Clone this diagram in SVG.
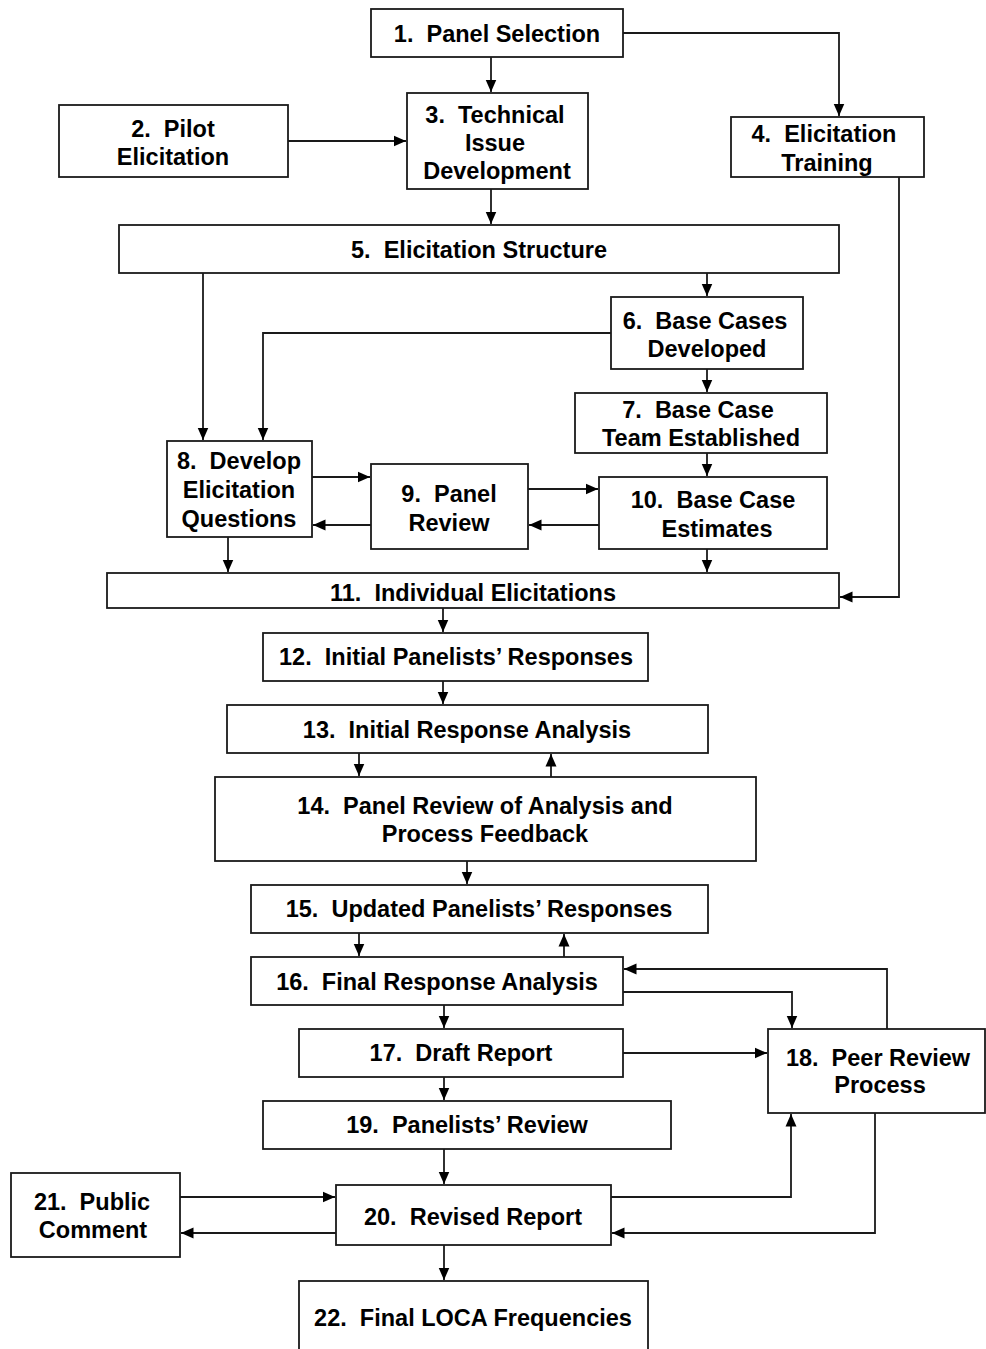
<svg xmlns="http://www.w3.org/2000/svg" width="986" height="1349" viewBox="0 0 986 1349">
<style>
.box{fill:#fff;stroke:#1a1a1a;stroke-width:1.8}
.t{font-family:"Liberation Sans",Arial,Helvetica,sans-serif;font-weight:bold;font-size:23.5px;fill:#000;text-anchor:middle;white-space:pre}
.c{fill:none;stroke:#1a1a1a;stroke-width:1.8}
</style>
<defs>
<marker id="ah" markerUnits="userSpaceOnUse" markerWidth="13" markerHeight="13" viewBox="0 0 13 13" refX="12.5" refY="6.5" orient="auto">
<path d="M0,1 L12.5,6.5 L0,12 z" fill="#000"/>
</marker>
</defs>
<rect width="986" height="1349" fill="#fff"/>
<g id="connectors">
<path class="c" d="M491,57 V92" marker-end="url(#ah)"/>
<path class="c" d="M623,33 H839 V116" marker-end="url(#ah)"/>
<path class="c" d="M288,141 H406" marker-end="url(#ah)"/>
<path class="c" d="M491,189 V224" marker-end="url(#ah)"/>
<path class="c" d="M899,177 V597 H840" marker-end="url(#ah)"/>
<path class="c" d="M707,273 V296" marker-end="url(#ah)"/>
<path class="c" d="M203,273 V440" marker-end="url(#ah)"/>
<path class="c" d="M611,333 H263 V440" marker-end="url(#ah)"/>
<path class="c" d="M707,369 V392" marker-end="url(#ah)"/>
<path class="c" d="M707,453 V476" marker-end="url(#ah)"/>
<path class="c" d="M312,477 H370" marker-end="url(#ah)"/>
<path class="c" d="M371,525 H313" marker-end="url(#ah)"/>
<path class="c" d="M528,489 H598" marker-end="url(#ah)"/>
<path class="c" d="M599,525 H529" marker-end="url(#ah)"/>
<path class="c" d="M228,537 V572" marker-end="url(#ah)"/>
<path class="c" d="M707,549 V572" marker-end="url(#ah)"/>
<path class="c" d="M443,608 V632" marker-end="url(#ah)"/>
<path class="c" d="M443,681 V704" marker-end="url(#ah)"/>
<path class="c" d="M359,753 V776" marker-end="url(#ah)"/>
<path class="c" d="M551,777 V754" marker-end="url(#ah)"/>
<path class="c" d="M467,861 V884" marker-end="url(#ah)"/>
<path class="c" d="M359,933 V956" marker-end="url(#ah)"/>
<path class="c" d="M564,957 V934" marker-end="url(#ah)"/>
<path class="c" d="M887,1029 V969 H624" marker-end="url(#ah)"/>
<path class="c" d="M623,992 H792 V1028" marker-end="url(#ah)"/>
<path class="c" d="M444,1005 V1028" marker-end="url(#ah)"/>
<path class="c" d="M623,1053 H767" marker-end="url(#ah)"/>
<path class="c" d="M444,1077 V1100" marker-end="url(#ah)"/>
<path class="c" d="M444,1149 V1184" marker-end="url(#ah)"/>
<path class="c" d="M180,1197 H335" marker-end="url(#ah)"/>
<path class="c" d="M336,1233 H181" marker-end="url(#ah)"/>
<path class="c" d="M611,1197 H791 V1114" marker-end="url(#ah)"/>
<path class="c" d="M875,1113 V1233 H612" marker-end="url(#ah)"/>
<path class="c" d="M444,1245 V1280" marker-end="url(#ah)"/>
</g>
<g id="n1"><rect class="box" x="371" y="9" width="252" height="48"/><text class="t" x="497" y="42">1.  Panel Selection</text></g>
<g id="n2"><rect class="box" x="59" y="105" width="229" height="72"/><text class="t" x="173" y="137">2.  Pilot</text><text class="t" x="173" y="165">Elicitation</text></g>
<g id="n3"><rect class="box" x="407" y="93" width="181" height="96"/><text class="t" x="495" y="123">3.  Technical</text><text class="t" x="495" y="151">Issue</text><text class="t" x="497" y="179">Development</text></g>
<g id="n4"><rect class="box" x="731" y="117" width="193" height="60"/><text class="t" x="824" y="142">4.  Elicitation</text><text class="t" x="827" y="171">Training</text></g>
<g id="n5"><rect class="box" x="119" y="225" width="720" height="48"/><text class="t" x="479" y="258">5.  Elicitation Structure</text></g>
<g id="n6"><rect class="box" x="611" y="297" width="192" height="72"/><text class="t" x="705" y="329">6.  Base Cases</text><text class="t" x="707" y="357">Developed</text></g>
<g id="n7"><rect class="box" x="575" y="393" width="252" height="60"/><text class="t" x="698" y="418">7.  Base Case</text><text class="t" x="701" y="446">Team Established</text></g>
<g id="n8"><rect class="box" x="167" y="441" width="145" height="96"/><text class="t" x="239" y="469">8.  Develop</text><text class="t" x="239" y="498">Elicitation</text><text class="t" x="239" y="527">Questions</text></g>
<g id="n9"><rect class="box" x="371" y="464" width="157" height="85"/><text class="t" x="449" y="502">9.  Panel</text><text class="t" x="449" y="531">Review</text></g>
<g id="n10"><rect class="box" x="599" y="477" width="228" height="72"/><text class="t" x="713" y="508">10.  Base Case</text><text class="t" x="717" y="537">Estimates</text></g>
<g id="n11"><rect class="box" x="107" y="573" width="732" height="35"/><text class="t" x="473" y="601">11.  Individual Elicitations</text></g>
<g id="n12"><rect class="box" x="263" y="633" width="385" height="48"/><text class="t" x="456" y="665">12.  Initial Panelists’ Responses</text></g>
<g id="n13"><rect class="box" x="227" y="705" width="481" height="48"/><text class="t" x="467" y="738">13.  Initial Response Analysis</text></g>
<g id="n14"><rect class="box" x="215" y="777" width="541" height="84"/><text class="t" x="485" y="814">14.  Panel Review of Analysis and</text><text class="t" x="485" y="842">Process Feedback</text></g>
<g id="n15"><rect class="box" x="251" y="885" width="457" height="48"/><text class="t" x="479" y="917">15.  Updated Panelists’ Responses</text></g>
<g id="n16"><rect class="box" x="251" y="957" width="372" height="48"/><text class="t" x="437" y="990">16.  Final Response Analysis</text></g>
<g id="n17"><rect class="box" x="299" y="1029" width="324" height="48"/><text class="t" x="461" y="1061">17.  Draft Report</text></g>
<g id="n18"><rect class="box" x="768" y="1029" width="217" height="84"/><text class="t" x="878" y="1066">18.  Peer Review</text><text class="t" x="880" y="1093">Process</text></g>
<g id="n19"><rect class="box" x="263" y="1101" width="408" height="48"/><text class="t" x="467" y="1133">19.  Panelists’ Review</text></g>
<g id="n20"><rect class="box" x="336" y="1185" width="275" height="60"/><text class="t" x="473" y="1225">20.  Revised Report</text></g>
<g id="n21"><rect class="box" x="11" y="1173" width="169" height="84"/><text class="t" x="92" y="1210">21.  Public</text><text class="t" x="93" y="1238">Comment</text></g>
<g id="n22"><rect class="box" x="299" y="1281" width="349" height="90"/><text class="t" x="473" y="1326">22.  Final LOCA Frequencies</text></g>
</svg>
